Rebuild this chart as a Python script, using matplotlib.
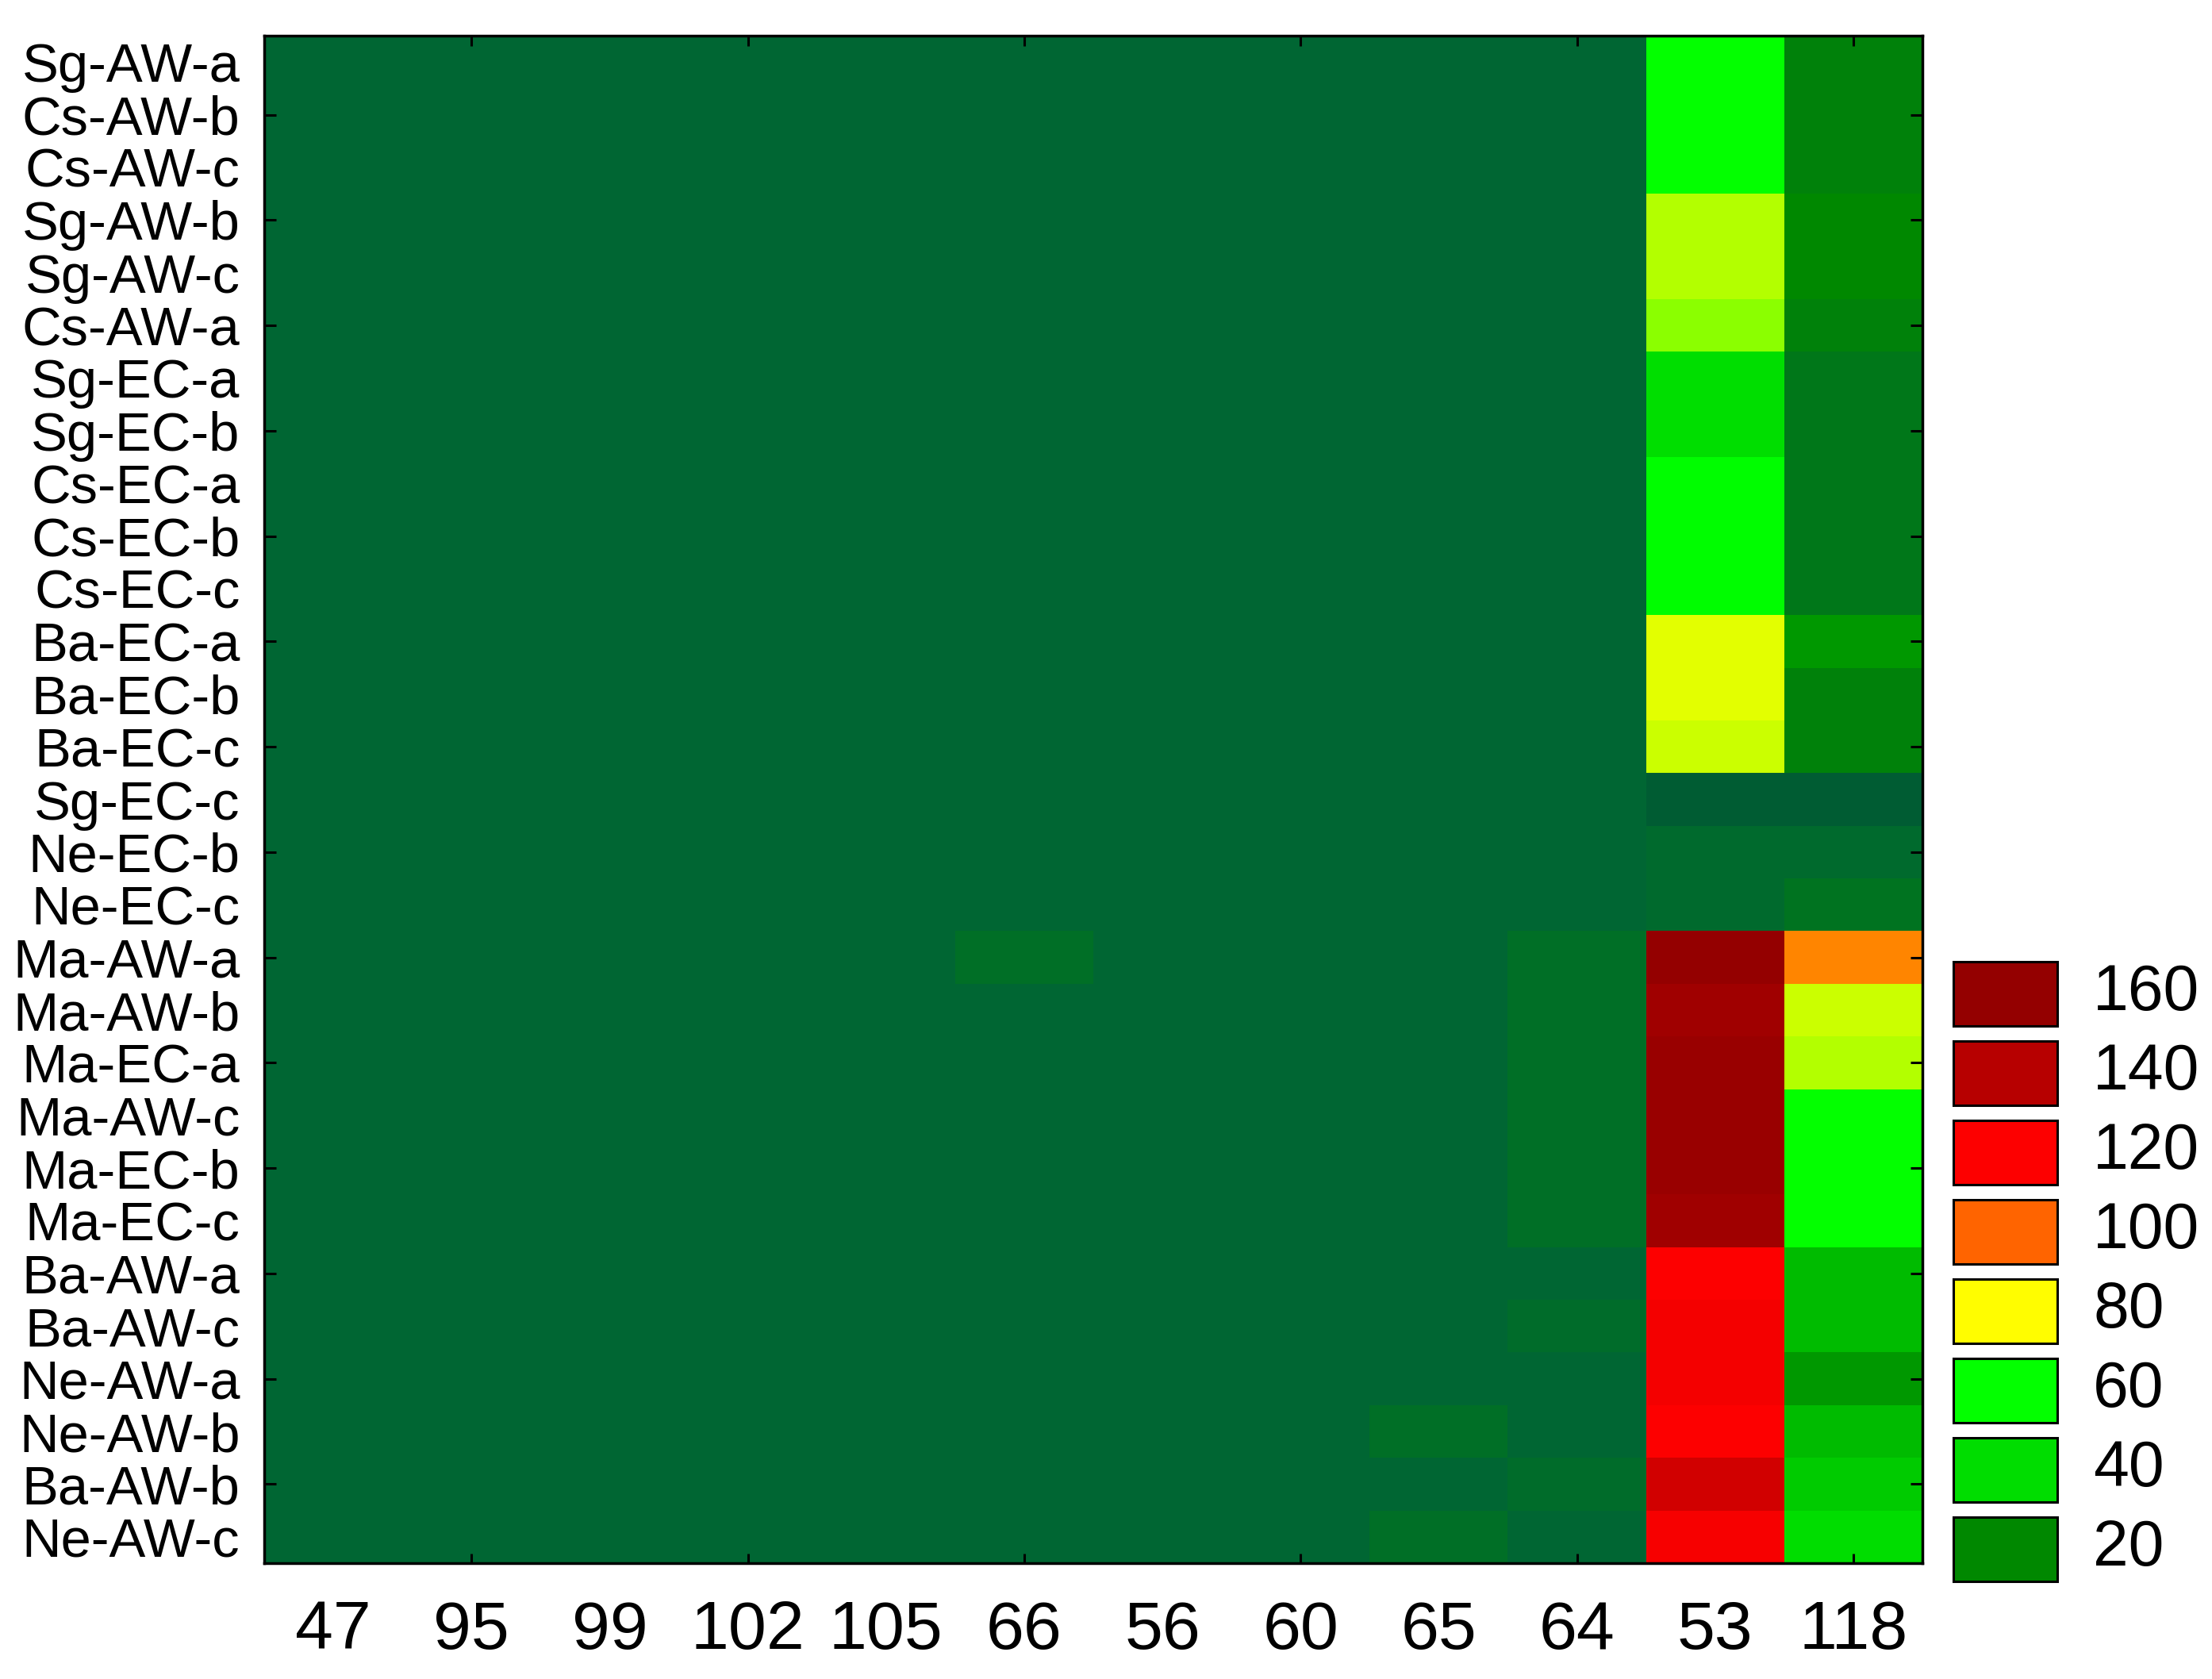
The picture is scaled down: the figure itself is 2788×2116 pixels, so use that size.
import numpy as np
import matplotlib
matplotlib.use("Agg")
import matplotlib.pyplot as plt
from matplotlib.colors import LinearSegmentedColormap, Normalize
from matplotlib.patches import Rectangle

plt.rcParams['font.family'] = ['Liberation Sans', 'DejaVu Sans']

# Kategorier
samples = ['Sg-AW-a', 'Cs-AW-b', 'Cs-AW-c', 'Sg-AW-b', 'Sg-AW-c', 'Cs-AW-a',
           'Sg-EC-a', 'Sg-EC-b', 'Cs-EC-a', 'Cs-EC-b', 'Cs-EC-c', 'Ba-EC-a',
           'Ba-EC-b', 'Ba-EC-c', 'Sg-EC-c', 'Ne-EC-b', 'Ne-EC-c', 'Ma-AW-a',
           'Ma-AW-b', 'Ma-EC-a', 'Ma-AW-c', 'Ma-EC-b', 'Ma-EC-c', 'Ba-AW-a',
           'Ba-AW-c', 'Ne-AW-a', 'Ne-AW-b', 'Ba-AW-b', 'Ne-AW-c']
compounds = ['47', '95', '99', '102', '105', '66', '56', '60', '65', '64', '53', '118']

# Værdier (række = prøve, kolonne = forbindelse)
values = [
    [5, 5, 5, 5, 5, 5, 5, 5, 5, 5, 60, 17],
    [5, 5, 5, 5, 5, 5, 5, 5, 5, 5, 60, 17],
    [5, 5, 5, 5, 5, 5, 5, 5, 5, 5, 60, 17],
    [5, 5, 5, 5, 5, 5, 5, 5, 5, 5, 74, 20],
    [5, 5, 5, 5, 5, 5, 5, 5, 5, 5, 74, 20],
    [5, 5, 5, 5, 5, 5, 5, 5, 5, 5, 71, 17],
    [5, 5, 5, 5, 5, 5, 5, 5, 5, 5, 41, 13],
    [5, 5, 5, 5, 5, 5, 5, 5, 5, 5, 41, 13],
    [5, 5, 5, 5, 5, 5, 5, 5, 5, 5, 59, 13],
    [5, 5, 5, 5, 5, 5, 5, 5, 5, 5, 59, 13],
    [5, 5, 5, 5, 5, 5, 5, 5, 5, 5, 59, 13],
    [5, 5, 5, 5, 5, 5, 5, 5, 5, 5, 78, 24],
    [5, 5, 5, 5, 5, 5, 5, 5, 5, 5, 78, 17],
    [5, 5, 5, 5, 5, 5, 5, 5, 5, 5, 76, 17],
    [5, 5, 5, 5, 5, 5, 5, 5, 5, 5, 0, 0],
    [5, 5, 5, 5, 5, 5, 5, 5, 5, 5, 7, 7],
    [5, 5, 5, 5, 5, 5, 5, 5, 5, 5, 7, 11],
    [5, 5, 5, 5, 5, 9, 5, 5, 5, 9, 160, 96],
    [5, 5, 5, 5, 5, 5, 5, 5, 5, 9, 153, 76],
    [5, 5, 5, 5, 5, 5, 5, 5, 5, 9, 157, 74],
    [5, 5, 5, 5, 5, 5, 5, 5, 5, 9, 157, 60],
    [5, 5, 5, 5, 5, 5, 5, 5, 5, 9, 157, 60],
    [5, 5, 5, 5, 5, 5, 5, 5, 5, 9, 153, 60],
    [5, 5, 5, 5, 5, 5, 5, 5, 5, 5, 120, 32],
    [5, 5, 5, 5, 5, 5, 5, 5, 5, 8, 123, 32],
    [5, 5, 5, 5, 5, 5, 5, 5, 5, 5, 123, 24],
    [5, 5, 5, 5, 5, 5, 5, 5, 9, 5, 120, 32],
    [5, 5, 5, 5, 5, 5, 5, 5, 5, 8, 133, 36],
    [5, 5, 5, 5, 5, 5, 5, 5, 9, 5, 122, 40],
]

legend_levels = [160, 140, 120, 100, 80, 60, 40, 20]

# Farveskala i Statistica-stil
anker_v = [0, 5, 20, 40, 60, 80, 100, 120, 140, 160]
anker_f = ['#005c33', '#006633', '#008800', '#00dd00', '#00ff00',
           '#ffff00', '#ff6600', '#ff0000', '#b80000', '#940000']
vmin, vmax = anker_v[0], anker_v[-1]
cmap = LinearSegmentedColormap.from_list(
    'statistica', [((v - vmin) / (vmax - vmin), c) for v, c in zip(anker_v, anker_f)])
norm = Normalize(vmin=vmin, vmax=vmax)

W, H = 2788, 2116
fig = plt.figure(figsize=(W / 100, H / 100), dpi=100)
ax = fig.add_axes([333 / W, 1 - 1970 / H, (2423 - 333) / W, (1970 - 45) / H])

data = np.array(values, dtype=float)
ax.pcolormesh(np.arange(len(compounds) + 1) - 0.5, np.arange(len(samples) + 1) - 0.5,
              data, cmap=cmap, norm=norm, shading='flat')
ax.set_xlim(-0.5, len(compounds) - 0.5)
ax.set_ylim(len(samples) - 0.5, -0.5)

ax.set_xticks(range(len(compounds)))
ax.set_xticklabels(compounds, fontsize=62)
ax.set_yticks(range(len(samples)))
ax.set_yticklabels(samples, fontsize=49.5)
ax.tick_params(axis='x', which='major', length=0, pad=33)
ax.tick_params(axis='y', which='major', length=0, pad=22)

# Små indadvendte streger ved hver anden kategori
ax.xaxis.remove_overlapping_locs = False
ax.yaxis.remove_overlapping_locs = False
ax.set_xticks(range(1, len(compounds), 2), minor=True)
ax.set_yticks(range(1, len(samples), 2), minor=True)
ax.tick_params(axis='x', which='minor', direction='in', length=9, width=2.2,
               top=True, bottom=True)
ax.tick_params(axis='y', which='minor', direction='in', length=11, width=2.2,
               left=True, right=True)

for s in ax.spines.values():
    s.set_linewidth(2.5)
    s.set_color('black')

# Forklaring (farvekasser)
lax = fig.add_axes([2450 / W, 1 - 2002.5 / H, (W - 2450) / W, 800 / H])
lax.set_xlim(0, W - 2450)
lax.set_ylim(len(legend_levels) - 0.5, -0.5)
lax.axis('off')
for i, lvl in enumerate(legend_levels):
    lax.add_patch(Rectangle((12, i - 0.405), 131, 0.81, facecolor=cmap(norm(lvl)),
                            edgecolor='black', linewidth=2.2))
    lax.text(188, i, str(lvl), fontsize=58, va='center', ha='left')

fig.savefig('out.png', dpi=100)
